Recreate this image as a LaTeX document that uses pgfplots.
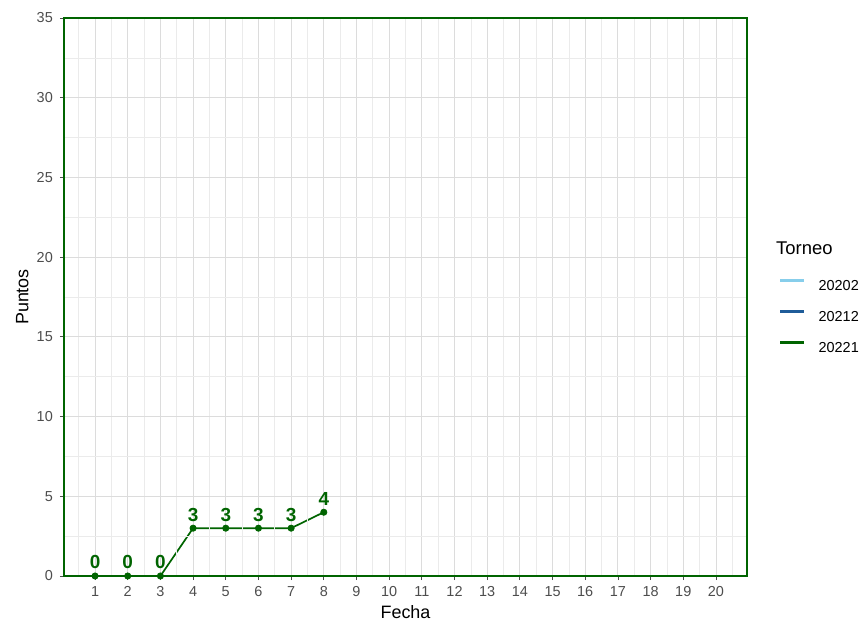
\documentclass[border=0pt]{standalone}
\usepackage{fontspec}
\setmainfont{Liberation Sans}
\usepackage{pgfplots}
\pgfplotsset{compat=1.18}

\definecolor{dgreen}{HTML}{006400}
\definecolor{lblue}{HTML}{87CEEB}
\definecolor{dblue}{HTML}{1F5C99}
\definecolor{tickgray}{HTML}{4D4D4D}
\definecolor{gmaj}{HTML}{DCDCDC}
\definecolor{gmin}{HTML}{EBEBEB}

\begin{document}
\begin{tikzpicture}
\path[use as bounding box] (0,0) rectangle (861bp,622bp);
\begin{axis}[
    at={(64bp,46bp)}, anchor=south west,
    width=683bp, height=558bp, scale only axis,
    xmin=0.05, xmax=20.95, ymin=0, ymax=35,
    xtick={1,...,20}, ytick={0,5,...,35},
    minor xtick={0.5,1.5,...,20.5},
    minor ytick={2.5,7.5,...,32.5},
    grid=both,
    major grid style={gmaj, line width=0.9bp},
    minor grid style={gmin, line width=0.7bp},
    axis line style={dgreen, line width=2.6bp},
    axis on top,
    tick align=outside,
    major tick length=4bp, minor tick length=0pt,
    tick style={tickgray, line width=0.8bp},
    xtick pos=bottom, ytick pos=left,
    /pgf/number format/assume math mode=true,
    ticklabel style={font=\fontsize{14.5}{16}\selectfont, text=tickgray, inner sep=0pt},
    xticklabel style={anchor=north, yshift=-6bp},
    yticklabel style={anchor=east, xshift=-7bp},
    xlabel={Fecha}, ylabel={Puntos},
    label style={font=\fontsize{18}{20}\selectfont, inner sep=0pt},
    xlabel style={at={(axis description cs:0.5,0)}, anchor=base, yshift=-42.7bp},
    ylabel style={at={(axis description cs:-0.0523,0.5)}, anchor=base},
    legend style={draw=none, fill=none, inner sep=0pt, outer sep=0pt,
        at={(1.0469,0.532)}, anchor=north west,
        row sep=19.6bp, column sep=13bp,
        nodes={inner sep=0pt, text height=10.4bp, text depth=0pt,
            font=\fontsize{14.5}{16}\selectfont}},
    legend cell align=left,
    legend image code/.code={\draw[#1, line width=2.6bp] (0bp,5bp) -- (24bp,5bp);},
]
\addlegendimage{lblue}
\addlegendentry{20202}
\addlegendimage{dblue}
\addlegendentry{20212}
\addplot[dgreen, line width=1.7bp, mark=*, mark size=3.1bp,
    mark options={fill=dgreen, solid, line width=0.8bp},
    nodes near coords,
    nodes near coords style={font=\fontsize{19}{21}\selectfont\bfseries,
        text=dgreen, anchor=south, inner sep=0pt, yshift=6.5bp}]
    coordinates {(1,0) (2,0) (3,0) (4,3) (5,3) (6,3) (7,3) (8,4)};
\addlegendentry{20221}
\end{axis}
\node[anchor=west, inner sep=0pt, font=\fontsize{18.5}{20}\selectfont] at (776bp,374bp) {Torneo};
\end{tikzpicture}
\end{document}
